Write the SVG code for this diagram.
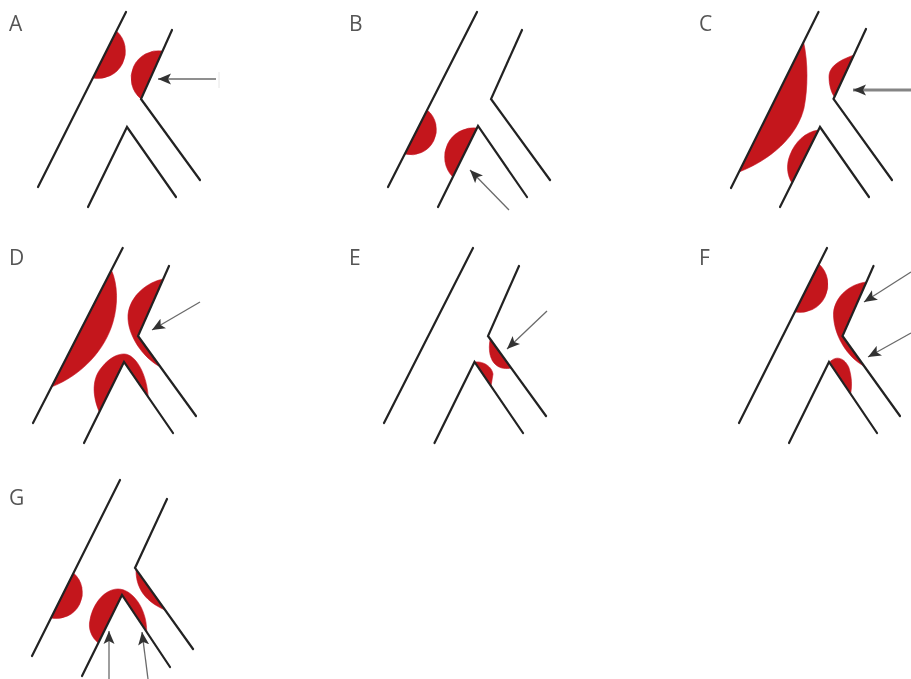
<svg xmlns="http://www.w3.org/2000/svg" width="911" height="679" viewBox="0 0 911 679">
<defs>
<filter id="soft" x="-5%" y="-5%" width="110%" height="110%"><feGaussianBlur stdDeviation="0.55"/></filter>
<marker id="head" markerUnits="userSpaceOnUse" markerWidth="14" markerHeight="12" refX="13" refY="6" orient="auto"><path d="M13,6 L0,11.500 L3,6 L0,.5 Z" fill="#333"/></marker>
</defs>
<style>
.wall{fill:none;stroke:#222;stroke-width:2.200;stroke-linecap:round;stroke-linejoin:miter}
.plaque{fill:#c4131f;stroke:#c4131f;stroke-width:.6}
.flow{fill:none;stroke:#6a6a6a;stroke-width:1.300;marker-end:url(#head)}
.thick{stroke:#858585;stroke-width:3}
.tick{fill:none;stroke:#e6e6e6;stroke-width:1}
.lab{font-family:"Open Sans","Liberation Sans",sans-serif;font-size:21px;font-weight:400;fill:#555}
</style>
<rect width="911" height="679" fill="#fff"/>
<g filter="url(#soft)">
<g id="node-A">
<path class="plaque" d="M116.500,31 A27.300,27.300 0 0 1 93,78 Z"/>
<path class="plaque" d="M162.600,51 A27.300,27.300 0 0 0 141,99 Z"/>
<path class="wall" d="M126,12 L38,187"/><path class="wall" d="M172,30 L141,99 L200,180"/><path class="wall" d="M88,207 L127,127 L176,197"/>
<text class="lab" x="9" y="31">A</text>
</g>
<g id="node-B">
<path class="plaque" d="M427.200,110 A25.300,25.300 0 0 1 404.800,154 Z"/>
<path class="plaque" d="M477,128 A29,29 0 0 0 452.800,177 Z"/>
<path class="wall" d="M477,12 L388,187"/><path class="wall" d="M522,30 L491,99 L550,180"/><path class="wall" d="M438,207 L478,126 L527,197"/>
<text class="lab" x="349" y="31">B</text>
</g>
<g id="node-C">
<path class="plaque" d="M803.600,42 C808,62 808,88 804,108 C797,137 770,160 739,172 Z"/>
<path class="plaque" d="M854,55 C840,60 829,66 829,77 C829,85 831,92 834.400,97 Z"/>
<path class="plaque" d="M818.500,130 C805,132 795,142 790,155 C786,165 787,175 792,183 Z"/>
<path class="wall" d="M818.500,12 L731,188"/><path class="wall" d="M866,29 L833.500,99 L892,180"/><path class="wall" d="M780,207 L820,127 L869,197"/>
<text class="lab" x="699" y="31">C</text>
</g>
<g id="node-D">
<path class="plaque" d="M111.400,270 C118,285 118,305 113,322 C105,350 82,375 51.400,387 Z"/>
<path class="plaque" d="M163.200,279 C148,282 130,295 128,315 C127,335 143,358 160.500,367 L138,336 Z"/>
<path class="plaque" d="M99.300,412 C92,395 92,378 102,367 C110,357 118,354 124,354 C136,354 147,375 148.200,397 L124,362 Z"/>
<path class="wall" d="M122.700,248 L33,423"/><path class="wall" d="M169,266 L138,336 L196,416"/><path class="wall" d="M84,443 L124,362 L173,433"/>
<text class="lab" x="9" y="265">D</text>
</g>
<g id="node-E">
<path class="plaque" d="M490.200,339 C488,350 490,360 496,365 C501,369 506,369 511.200,368 Z"/>
<path class="plaque" d="M475,362 C484,361 492,367 493,374 L491,386 Z"/>
<path class="wall" d="M473,248 L384,423"/><path class="wall" d="M519,266 L488,336 L546,416"/><path class="wall" d="M434.500,443 L474.500,362 L523,433"/>
<text class="lab" x="349" y="265">E</text>
</g>
<g id="node-F">
<path class="plaque" d="M819,264 A28,28 0 0 1 794.800,312 Z"/>
<path class="plaque" d="M866.400,282 C850,284 835,296 833.500,313 C833,335 848,358 864,366 L842.500,336 Z"/>
<path class="plaque" d="M830,362 C836,355 845,358 849,368 C852,378 852,386 850.600,394 Z"/>
<path class="wall" d="M827,248 L739,423"/><path class="wall" d="M873.500,266 L842.500,336 L900,416"/><path class="wall" d="M789,443 L829,362 L877,433"/>
<text class="lab" x="699" y="265">F</text>
</g>
<g id="node-G">
<path class="plaque" d="M73.500,573 A26,26 0 0 1 51,618 Z"/>
<path class="plaque" d="M136,570 C136,585 142,600 165,610 Z"/>
<path class="plaque" d="M98.300,643 C91,637 88,628 90,620 C93,603 105,589 118,589 C132,589 147,608 146.700,632 L122,595 Z"/>
<path class="wall" d="M120,480 L32,656"/><path class="wall" d="M167,499 L135,568 L193,649"/><path class="wall" d="M82,676 L122,595 L170,667"/>
<text class="lab" x="9" y="505">G</text>
</g>
<g id="connectors">
<path class="flow" d="M216,79 L158,79"/>
<path class="tick" d="M219,72 L219,88"/>
<path class="flow" d="M509,210 L470,170"/>
<path class="flow thick" d="M911,90 L853,90"/>
<path class="flow" d="M200,302 L152,330"/>
<path class="flow" d="M547,311 L507,349"/>
<path class="flow" d="M911,272 L864,302"/>
<path class="flow" d="M911,333 L868,357"/>
<path class="flow" d="M109,679 L109,631"/>
<path class="flow" d="M148,679 L142,632"/>
</g>
</g>
</svg>
